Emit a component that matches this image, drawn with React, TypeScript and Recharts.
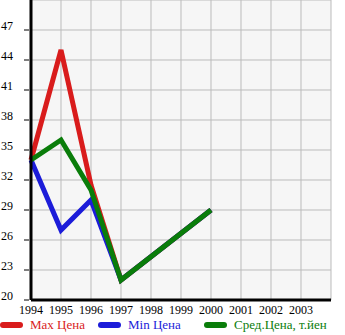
import React from 'react';
import { LineChart, Line, XAxis, YAxis, CartesianGrid } from 'recharts';

const years = [1994, 1995, 1996, 1997, 1998, 1999, 2000];
const maxPrice = [34, 45, 31.5, 22, null, null, 29];
const minPrice = [34, 27, 30, 22, null, null, 29];
const avgPrice = [34, 36, 31, 22, null, null, 29];

const xTicks = [1994, 1995, 1996, 1997, 1998, 1999, 2000, 2001, 2002, 2003, 2004];
const yTicks = [20, 23, 26, 29, 32, 35, 38, 41, 44, 47, 50];

const legendItems = [
  { label: 'Max Цена', color: '#d91c1c' },
  { label: 'Min Цена', color: '#1c1cd9' },
  { label: 'Сред.Цена, т.йен', color: '#0a7d0a' },
];

const data = years.map((y, i) => ({
  year: y,
  max: maxPrice[i],
  min: minPrice[i],
  avg: avgPrice[i],
}));

const FONT = '"Liberation Serif", "DejaVu Serif", serif';

const YTick = (props: any) => {
  const { x, y, payload } = props;
  if (payload.value === 50) return null;
  return (
    <g>
      <line x1={x + 1} x2={x + 6} y1={y} y2={y} stroke="#000" strokeWidth={1} />
      <text x={13} y={y} dy={0} textAnchor="end" fontSize={12} fontFamily={FONT} fill="#000">
        {payload.value}
      </text>
    </g>
  );
};

const XTick = (props: any) => {
  const { x, y, payload } = props;
  if (payload.value === 2004) return null;
  return (
    <text x={x} y={y} dy={6} textAnchor="middle" fontSize={12} fontFamily={FONT} fill="#000">
      {payload.value}
    </text>
  );
};

const App: React.FC = () => {
  return (
    <div style={{ position: 'absolute', left: 0, top: 0, width: 345, height: 335 }}>
      <LineChart width={345} height={335} data={data} margin={{ top: 0, right: 14, bottom: 0, left: 0 }}>
        <CartesianGrid stroke="#bbbbbb" fill="#f6f6f6" strokeWidth={1} />
        <XAxis
          dataKey="year"
          type="number"
          domain={[1994, 2004]}
          ticks={xTicks}
          interval={0}
          height={35}
          axisLine={{ stroke: '#000', strokeWidth: 3 }}
          tickLine={false}
          tick={<XTick />}
        />
        <YAxis
          type="number"
          domain={[20, 50]}
          ticks={yTicks}
          interval={0}
          width={31}
          axisLine={{ stroke: '#000', strokeWidth: 3 }}
          tickLine={false}
          tick={<YTick />}
        />
        <Line dataKey="max" stroke={legendItems[0].color} strokeWidth={5} dot={false} connectNulls isAnimationActive={false} />
        <Line dataKey="min" stroke={legendItems[1].color} strokeWidth={5} dot={false} connectNulls isAnimationActive={false} />
        <Line dataKey="avg" stroke={legendItems[2].color} strokeWidth={5} dot={false} connectNulls isAnimationActive={false} />
      </LineChart>
      <div style={{ position: 'absolute', top: 317, left: 0, width: 345, height: 18 }}>
        {legendItems.map((item, i) => (
          <div
            key={item.label}
            style={{
              position: 'absolute',
              left: [0, 98, 204][i],
              top: 0,
              display: 'flex',
              alignItems: 'center',
              whiteSpace: 'nowrap',
            }}
          >
            <span
              style={{
                display: 'inline-block',
                width: 23,
                height: 6,
                borderRadius: 3,
                background: item.color,
                marginRight: 7,
              }}
            />
            <span style={{ fontFamily: FONT, fontSize: 13, color: item.color }}>{item.label}</span>
          </div>
        ))}
      </div>
    </div>
  );
};

export default App;
